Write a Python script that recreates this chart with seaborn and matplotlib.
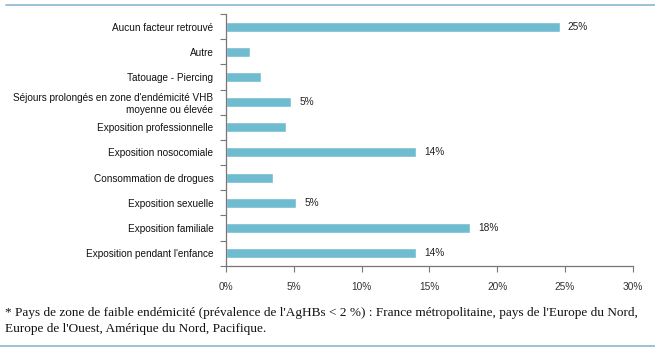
import matplotlib
matplotlib.use('Agg')
import matplotlib.pyplot as plt
import seaborn as sns
import numpy as np
import pandas as pd

categories = ['Aucun facteur retrouvé', 'Autre', 'Tatouage - Piercing',
              "Séjours prolongés en zone d'endémicité VHB\nmoyenne ou élevée",
              'Exposition professionnelle', 'Exposition nosocomiale',
              'Consommation de drogues', 'Exposition sexuelle',
              'Exposition familiale', "Exposition pendant l'enfance"]
values = [24.6, 1.75, 2.6, 4.8, 4.4, 14.0, 3.5, 5.2, 18.0, 14.0]
value_labels = ['25%', '', '', '5%', '', '14%', '', '5%', '18%', '14%']
xticks = [0, 5, 10, 15, 20, 25, 30]
footnote = ("* Pays de zone de faible endémicité (prévalence de l'AgHBs < 2 %) : France métropolitaine, pays de l'Europe du Nord,\n"
            "Europe de l'Ouest, Amérique du Nord, Pacifique.")

sns.set_style('white')
plt.rcParams['font.family'] = ['Liberation Sans', 'DejaVu Sans']

df = pd.DataFrame({'cat': categories, 'val': values})

fig = plt.figure(figsize=(6.55, 3.51), dpi=100)
ax = fig.add_axes([0.345, 0.243, 0.621, 0.717])

sns.barplot(data=df, x='val', y='cat', orient='h', color='#6fbcd0',
            saturation=1, width=0.4, ax=ax)
ax.bar_label(ax.containers[0], labels=value_labels, padding=6, fontsize=7.3, color='#222222')

ax.set_xlim(0, 30)
ax.set_ylim(len(categories) - 0.5, -0.5)
ax.set_xticks(xticks)
ax.set_xticklabels([f'{t}%' for t in xticks], fontsize=7.3, color='#333333')
ax.set_xlabel('')
ax.set_ylabel('')
ax.tick_params(axis='y', which='major', left=False, length=0, labelsize=7.2, pad=9, labelcolor='#111111')
ax.set_yticks(np.arange(len(categories) + 1) - 0.5, minor=True)
ax.tick_params(axis='y', which='minor', left=True, length=4, direction='out', color='#777777', width=0.8)
ax.tick_params(axis='x', bottom=True, length=4, direction='out', color='#777777', width=0.8, pad=8)
for s in ['top', 'right']:
    ax.spines[s].set_visible(False)
for s in ['left', 'bottom']:
    ax.spines[s].set_color('#777777')
    ax.spines[s].set_linewidth(0.9)
ax.grid(False)

fig.add_artist(plt.Line2D([6 / 655, 1], [1 - 5 / 351, 1 - 5 / 351], color='#8ab8d0', lw=1.2))
fig.add_artist(plt.Line2D([0, 1], [1 - 346 / 351, 1 - 346 / 351], color='#8ab8d0', lw=1.2))
fig.text(5 / 655, 1 - 307 / 351, footnote, fontsize=9.55, family=['Liberation Serif', 'DejaVu Serif'],
         va='top', ha='left', linespacing=1.4, color='#111111')

fig.savefig('out.png', dpi=100)
